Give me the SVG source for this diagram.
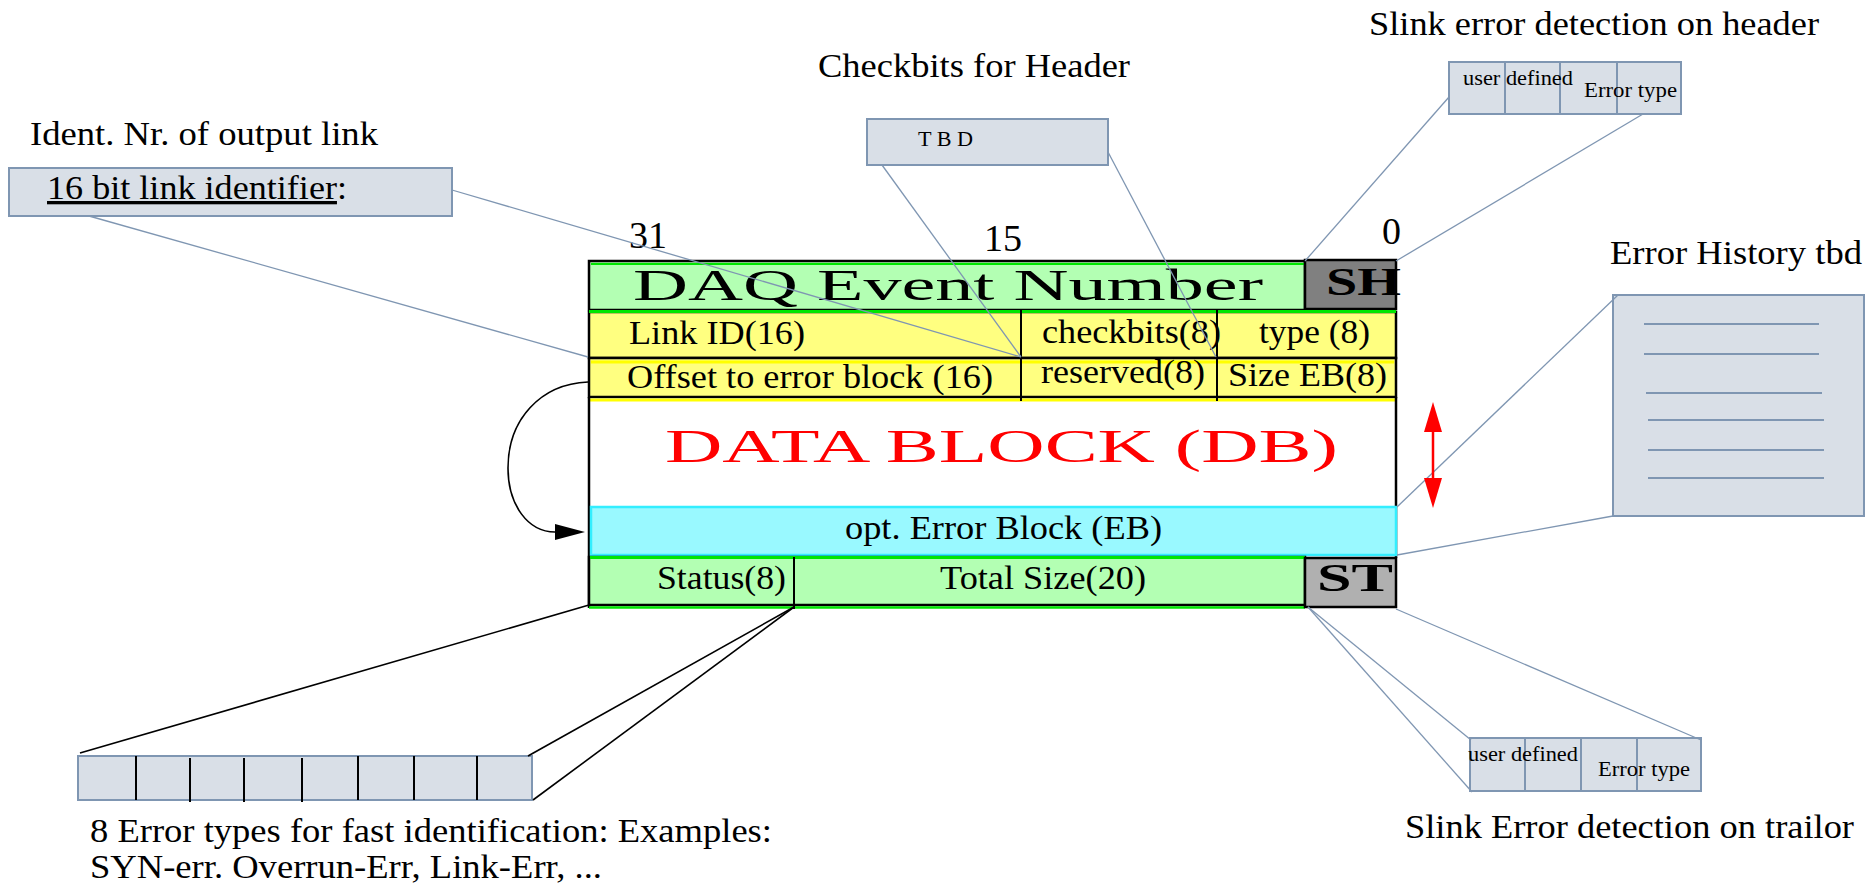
<svg xmlns="http://www.w3.org/2000/svg" width="1865" height="885" viewBox="0 0 1865 885">
<style>
text{font-family:"Liberation Serif","Times New Roman",serif;fill:#000}
.lbl{font-size:33px}
.cell{font-size:34px}
.sm{font-size:21px}
.bold{font-weight:bold}
.box{fill:#d9dfe7;stroke:#7f96b2;stroke-width:2}
.gl{fill:none;stroke:#7f96b2;stroke-width:2}
.con{fill:none;stroke:#7f96b2;stroke-width:1.3}
.blk{fill:none;stroke:#000;stroke-width:1.6}
.frm{fill:none;stroke:#000;stroke-width:2.5}
.div{stroke:#000;stroke-width:2}
</style>
<defs>
<marker id="ah" markerUnits="userSpaceOnUse" markerWidth="30" markerHeight="16" refX="0" refY="8" orient="auto"><path d="M0,0 L30,8 L0,16 z" fill="#000"/></marker>
<marker id="rh" markerUnits="userSpaceOnUse" markerWidth="30" markerHeight="18" refX="0" refY="9" orient="auto-start-reverse"><path d="M0,0 L30,9 L0,18 z" fill="#ff0000"/></marker>
</defs>
<rect width="1865" height="885" fill="#fff"/>

<g id="frame">
<rect x="589" y="261" width="716" height="49" fill="#b3ffb3" stroke="#000" stroke-width="2.5"/>
<line x1="591" y1="264" x2="1305" y2="264" stroke="#00e600" stroke-width="2"/>
<rect x="1305" y="260" width="91" height="49" fill="#808080" stroke="#000" stroke-width="2.5"/>
<rect x="589" y="312" width="807" height="46" fill="#ffff80" stroke="#000" stroke-width="2.5"/>
<line x1="589" y1="311.5" x2="1396" y2="311.5" stroke="#00e600" stroke-width="3"/>
<rect x="589" y="358" width="807" height="39" fill="#ffff80" stroke="#000" stroke-width="2.5"/>
<line x1="591" y1="362" x2="1394" y2="362" stroke="#ffff00" stroke-width="3"/>
<line x1="589" y1="400" x2="1396" y2="400" stroke="#ffff00" stroke-width="3"/>
<line class="div" x1="1021" y1="310" x2="1021" y2="401"/>
<line class="div" x1="1217" y1="310" x2="1217" y2="401"/>
<line class="frm" x1="589" y1="397" x2="589" y2="608"/>
<line class="frm" x1="1396" y1="397" x2="1396" y2="558"/>
<rect x="591" y="507" width="805" height="48" fill="#99f9ff" stroke="#33eeff" stroke-width="2.5"/>
<rect x="589" y="557" width="716" height="48" fill="#b3ffb3" stroke="#000" stroke-width="2.5"/>
<line x1="590" y1="557.5" x2="1305" y2="557.5" stroke="#00e600" stroke-width="3"/>
<line x1="589" y1="607.5" x2="1305" y2="607.5" stroke="#00e600" stroke-width="2.5"/>
<line class="div" x1="794" y1="557" x2="794" y2="609"/>
<rect x="1305" y="558" width="91" height="49" fill="#b0b0b0" stroke="#000" stroke-width="2.5"/>
<text x="633" y="300" font-size="44" textLength="630" lengthAdjust="spacingAndGlyphs">DAQ Event Number</text>
<text class="bold" x="1326" y="295" font-size="39" textLength="75" lengthAdjust="spacingAndGlyphs">SH</text>
<text class="cell" x="629" y="344" textLength="176" lengthAdjust="spacingAndGlyphs">Link ID(16)</text>
<text class="cell" x="1042" y="343" textLength="179" lengthAdjust="spacingAndGlyphs">checkbits(8)</text>
<text class="cell" x="1259" y="343" textLength="111" lengthAdjust="spacingAndGlyphs">type (8)</text>
<text class="cell" x="627" y="388" textLength="366" lengthAdjust="spacingAndGlyphs">Offset to error block (16)</text>
<text class="cell" x="1041" y="383" textLength="164" lengthAdjust="spacingAndGlyphs">reserved(8)</text>
<text class="cell" x="1228" y="386" textLength="159" lengthAdjust="spacingAndGlyphs">Size EB(8)</text>
<text x="665" y="462" font-size="46" style="fill:#ff0000" textLength="673" lengthAdjust="spacingAndGlyphs">DATA BLOCK (DB)</text>
<text class="cell" x="845" y="539" textLength="317" lengthAdjust="spacingAndGlyphs">opt. Error Block (EB)</text>
<text class="cell" x="657" y="589" textLength="129" lengthAdjust="spacingAndGlyphs">Status(8)</text>
<text class="cell" x="940" y="589" textLength="206" lengthAdjust="spacingAndGlyphs">Total Size(20)</text>
<text class="bold" x="1317" y="591" font-size="39" textLength="76" lengthAdjust="spacingAndGlyphs">ST</text>
</g>

<g id="bit-numbers">
<text x="629" y="248" font-size="38">31</text>
<text x="984" y="251" font-size="38">15</text>
<text x="1382" y="244" font-size="38">0</text>
</g>

<g id="link-identifier">
<text class="lbl" x="30" y="145" textLength="348" lengthAdjust="spacingAndGlyphs">Ident. Nr. of output link</text>
<rect class="box" x="9" y="168" width="443" height="48"/>
<text class="lbl" x="47" y="199" font-size="34" textLength="300" lengthAdjust="spacingAndGlyphs"><tspan text-decoration="underline">16 bit link identifier</tspan>:</text>
</g>

<g id="checkbits-header">
<text class="lbl" x="818" y="77" textLength="312" lengthAdjust="spacingAndGlyphs">Checkbits for Header</text>
<rect class="box" x="867" y="119" width="241" height="46"/>
<text x="918" y="146" font-size="20" textLength="55" lengthAdjust="spacingAndGlyphs">T B D</text>
</g>

<g id="slink-header">
<text class="lbl" x="1369" y="35" textLength="450" lengthAdjust="spacingAndGlyphs">Slink error detection on header</text>
<rect class="box" x="1449" y="62" width="232" height="52"/>
<line class="gl" x1="1505" y1="62" x2="1505" y2="114"/>
<line class="gl" x1="1560" y1="62" x2="1560" y2="114"/>
<line class="gl" x1="1617" y1="62" x2="1617" y2="114"/>
<text class="sm" x="1463" y="85" textLength="110" lengthAdjust="spacingAndGlyphs">user defined</text>
<text class="sm" x="1584" y="97" textLength="93" lengthAdjust="spacingAndGlyphs">Error type</text>
</g>

<g id="error-history">
<text class="lbl" x="1610" y="264" textLength="252" lengthAdjust="spacingAndGlyphs">Error History tbd</text>
<rect class="box" x="1613" y="295" width="251" height="221"/>
<line class="gl" x1="1644" y1="324" x2="1819" y2="324"/>
<line class="gl" x1="1644" y1="354" x2="1819" y2="354"/>
<line class="gl" x1="1646" y1="393" x2="1822" y2="393"/>
<line class="gl" x1="1648" y1="420" x2="1824" y2="420"/>
<line class="gl" x1="1648" y1="450" x2="1824" y2="450"/>
<line class="gl" x1="1648" y1="478" x2="1824" y2="478"/>
</g>

<g id="slink-trailer">
<rect class="box" x="1470" y="738" width="231" height="53"/>
<line class="gl" x1="1525" y1="738" x2="1525" y2="791"/>
<line class="gl" x1="1581" y1="738" x2="1581" y2="791"/>
<line class="gl" x1="1637" y1="738" x2="1637" y2="791"/>
<text class="sm" x="1468" y="761" textLength="110" lengthAdjust="spacingAndGlyphs">user defined</text>
<text class="sm" x="1598" y="776" textLength="92" lengthAdjust="spacingAndGlyphs">Error type</text>
<text class="lbl" x="1405" y="838" textLength="449" lengthAdjust="spacingAndGlyphs">Slink Error detection on trailor</text>
</g>

<g id="error-types">
<rect class="box" x="78" y="756" width="454" height="44"/>
<g class="div">
<line x1="136" y1="756" x2="136" y2="800"/>
<line x1="190" y1="758" x2="190" y2="802"/>
<line x1="244" y1="758" x2="244" y2="802"/>
<line x1="302" y1="758" x2="302" y2="802"/>
<line x1="358" y1="756" x2="358" y2="800"/>
<line x1="414" y1="756" x2="414" y2="800"/>
<line x1="477" y1="756" x2="477" y2="800"/>
</g>
<text class="lbl" x="90" y="842" textLength="682" lengthAdjust="spacingAndGlyphs">8 Error types for fast identification: Examples:</text>
<text class="lbl" x="90" y="878" textLength="512" lengthAdjust="spacingAndGlyphs">SYN-err. Overrun-Err, Link-Err, ...</text>
</g>

<g id="connectors">
<line class="con" x1="89" y1="216" x2="588" y2="357"/>
<line class="con" x1="452" y1="190" x2="1021" y2="357"/>
<line class="con" x1="882" y1="165" x2="1021" y2="357"/>
<line class="con" x1="1108" y1="152" x2="1216" y2="357"/>
<line class="con" x1="1449" y1="97" x2="1305" y2="261"/>
<line class="con" x1="1643" y1="114" x2="1396" y2="261"/>
<line class="con" x1="1618" y1="295" x2="1397" y2="507"/>
<line class="con" x1="1613" y1="516" x2="1397" y2="555"/>
<line class="con" x1="1308" y1="607" x2="1471" y2="740"/>
<line class="con" x1="1308" y1="607" x2="1472" y2="792"/>
<line class="con" x1="1396" y1="609" x2="1701" y2="740"/>
<line class="blk" x1="80" y1="753" x2="589" y2="605"/>
<line class="blk" x1="528" y1="756" x2="794" y2="607"/>
<line class="blk" x1="533" y1="800" x2="794" y2="607"/>
<path class="blk" d="M588,382 C540,384 508,420 508,468 C508,505 528,532 555,532" marker-end="url(#ah)"/>
<line x1="1433" y1="432" x2="1433" y2="478" stroke="#ff0000" stroke-width="2.5" marker-start="url(#rh)" marker-end="url(#rh)"/>
</g>
</svg>
